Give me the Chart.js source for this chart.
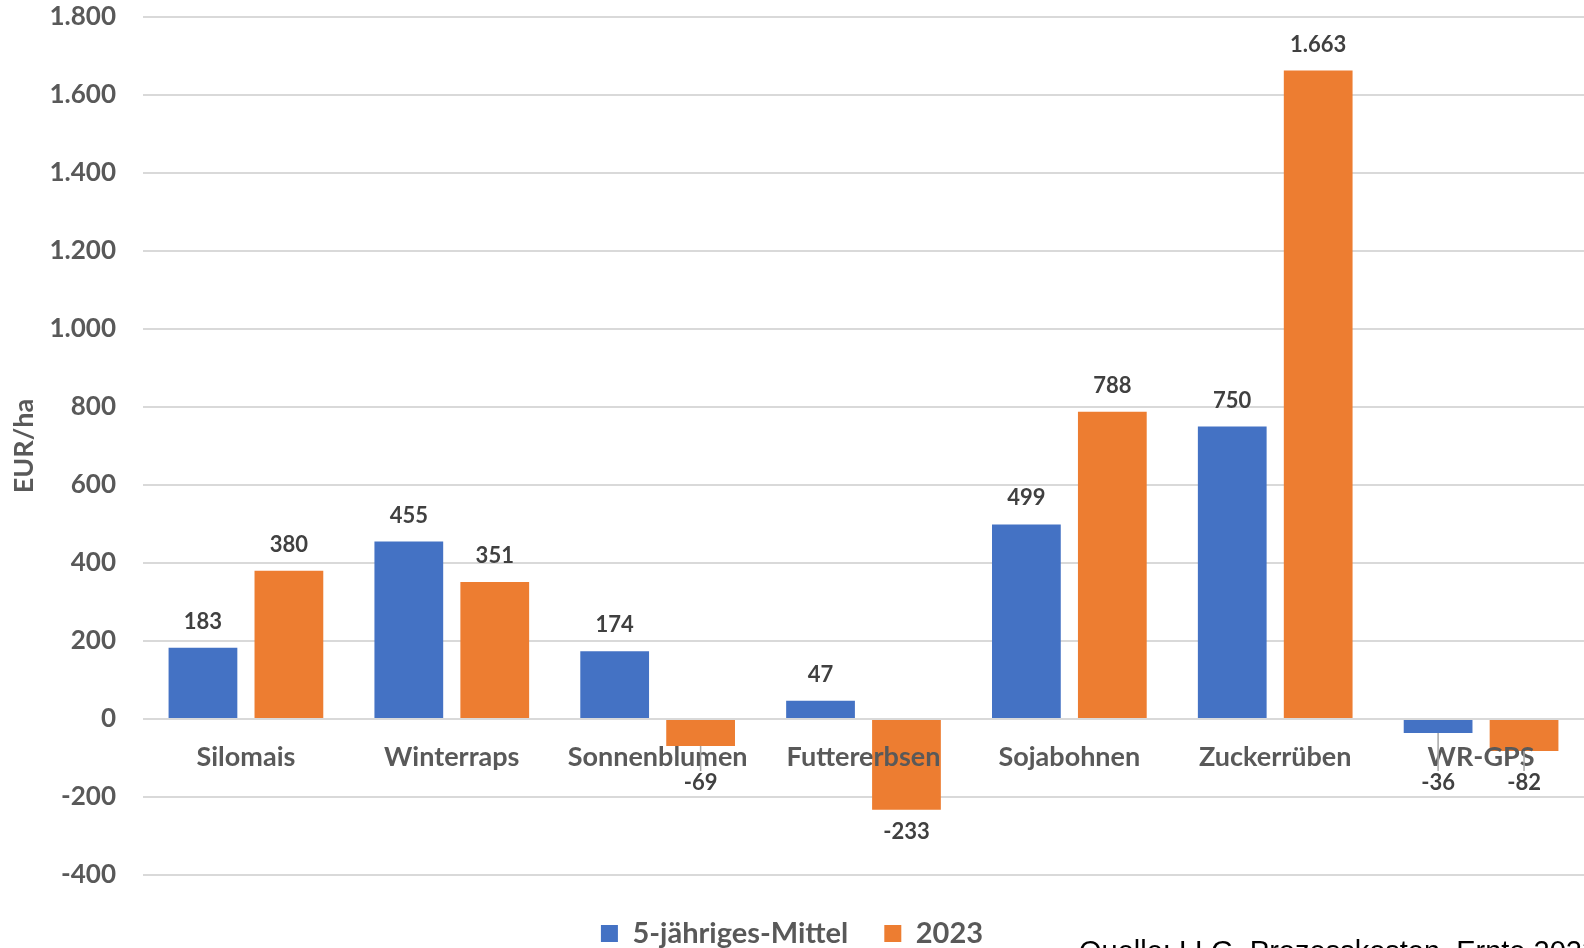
<!DOCTYPE html>
<html lang="de">
<head>
<meta charset="UTF-8">
<title>Deckungsbeitrag</title>
<style>
    body { margin: 0; background: #fff; }
    #box { width: 1584px; height: 948px; }
</style>
</head>
<body>
<div id="box"><canvas id="grafico"></canvas></div>
<script src="https://cdn.jsdelivr.net/npm/chart.js"></script>
<script>
    // Werte
    const kulturen = ['Silomais', 'Winterraps', 'Sonnenblumen', 'Futtererbsen', 'Sojabohnen', 'Zuckerrüben', 'WR-GPS'];
    const mittel5 = [183, 455, 174, 47, 499, 750, -36];
    const jahr2023 = [380, 351, -69, -233, 788, 1663, -82];
    const yTicks = [-400, -200, 0, 200, 400, 600, 800, 1000, 1200, 1400, 1600, 1800];

    const grau = '#595959';
    const fmt = v => v.toLocaleString('de-DE');

    // Kategorienamen an der Nulllinie, Werte an den Balken, Quelle unten rechts
    const beschriftung = {
        id: 'beschriftung',
        afterDatasetsDraw(chart) {
            const ctx = chart.ctx;
            const x = chart.scales.x;
            const y = chart.scales.y;
            const null0 = y.getPixelForValue(0);
            ctx.save();
            ctx.textAlign = 'center';
            ctx.textBaseline = 'middle';

            ctx.font = 'bold 27px Lato';
            ctx.fillStyle = grau;
            kulturen.forEach((k, i) => {
                ctx.fillText(k, x.getPixelForValue(i), null0 + 38);
            });

            ctx.font = 'bold 22px Lato';
            ctx.fillStyle = '#404040';
            chart.data.datasets.forEach((ds, d) => {
                chart.getDatasetMeta(d).data.forEach((bar, i) => {
                    const v = ds.data[i];
                    let ty;
                    if (v >= 0) {
                        ty = bar.y - 26;
                    } else {
                        ty = Math.max(bar.y + 22, null0 + 64);
                        if (ty - bar.y > 30) {
                            ctx.strokeStyle = '#a6a6a6';
                            ctx.lineWidth = 1.5;
                            ctx.beginPath();
                            ctx.moveTo(bar.x, bar.y);
                            ctx.lineTo(bar.x, ty - 12);
                            ctx.stroke();
                        }
                    }
                    ctx.fillText(fmt(v), bar.x, ty);
                });
            });

            ctx.textAlign = 'left';
            ctx.textBaseline = 'top';
            ctx.font = '29px "Liberation Sans"';
            ctx.fillStyle = '#000';
            ctx.fillText('Quelle: LLG, Prozesskosten, Ernte 2023', 1079, 938);
            ctx.restore();
        }
    };

    new Chart(document.getElementById('grafico'), {
        type: 'bar',
        data: {
            labels: kulturen,
            datasets: [
                { label: '5-jähriges-Mittel', data: mittel5, backgroundColor: '#4472C4' },
                { label: '2023', data: jahr2023, backgroundColor: '#ED7D31' }
            ]
        },
        options: {
            responsive: true,
            maintainAspectRatio: false,
            animation: false,
            categoryPercentage: 0.835,
            barPercentage: 0.8,
            layout: { padding: { top: 0, right: 0, bottom: -10, left: 0 } },
            plugins: {
                tooltip: { enabled: false },
                legend: {
                    position: 'bottom',
                    labels: {
                        color: grau,
                        font: { family: 'Lato', size: 29, weight: 'bold' },
                        boxWidth: 17,
                        boxHeight: 17,
                        padding: 36
                    }
                }
            },
            scales: {
                x: {
                    grid: { display: false },
                    border: { display: false },
                    ticks: { display: false }
                },
                y: {
                    min: -400,
                    max: 1800,
                    afterBuildTicks: s => { s.ticks = yTicks.map(v => ({ value: v })); },
                    afterFit: s => {
                        s.width = 143;
                        s.paddingTop = 17;
                    },
                    grid: { color: '#d9d9d9', lineWidth: 2, drawTicks: false },
                    border: { display: false },
                    ticks: {
                        color: grau,
                        padding: 27,
                        font: { family: 'Lato', size: 26, weight: 'bold' },
                        callback: v => fmt(v)
                    },
                    title: {
                        display: true,
                        text: 'EUR/ha',
                        color: grau,
                        font: { family: 'Lato', size: 27, weight: 'bold' },
                        padding: { top: 8, bottom: 0 }
                    }
                }
            }
        },
        plugins: [beschriftung]
    });
</script>
</body>
</html>
